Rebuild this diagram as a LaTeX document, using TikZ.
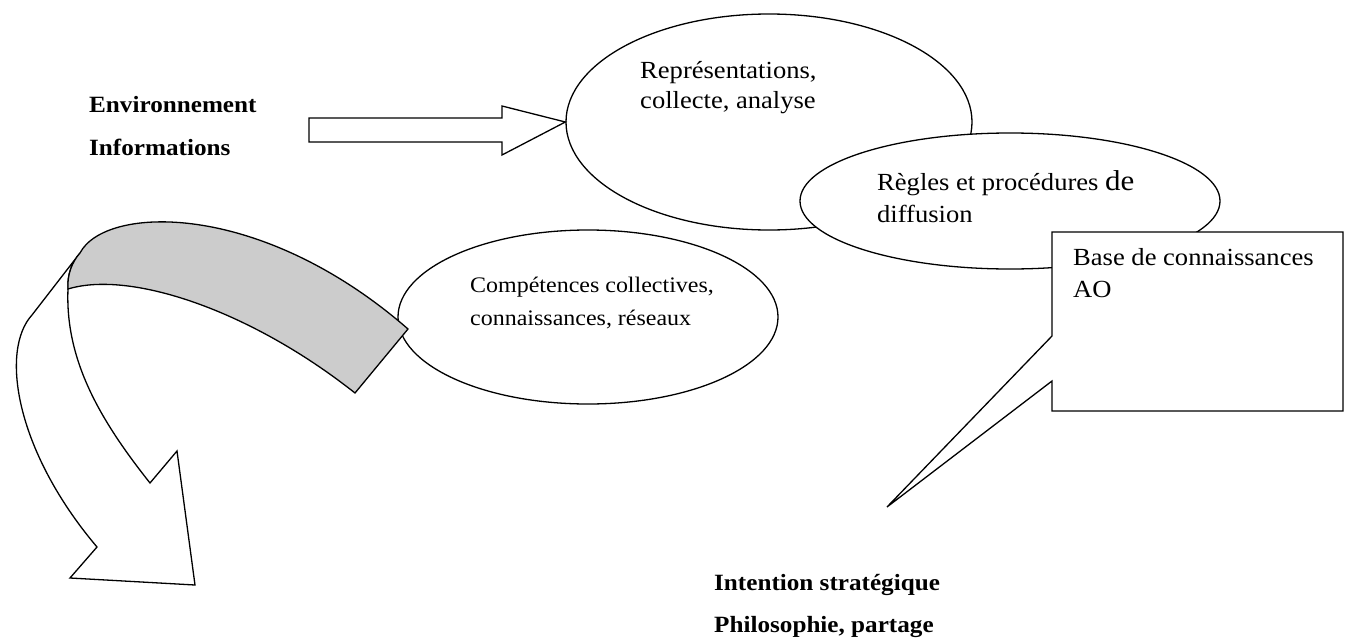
\documentclass[tikz,border=0pt]{standalone}
\usepackage{fontspec}
\setmainfont{Liberation Serif}[FakeStretch=1.08]
\usetikzlibrary{shapes.geometric}

\begin{document}
\begin{tikzpicture}[
  x=1pt, y=-1pt,
  oval/.style={draw, ellipse, fill=white, line width=1.3pt, inner sep=0pt},
  txt/.style={anchor=base west, inner sep=0pt, font=\fontsize{24.6}{30}\selectfont},
  smalltxt/.style={txt, font=\fontsize{22.2}{27}\selectfont},
  head/.style={anchor=base west, inner sep=0pt, font=\fontsize{23.3}{28}\selectfont\bfseries},
  outline/.style={draw, line width=1.3pt, line join=miter}
]
\useasboundingbox (0,0) rectangle (1345,640);

% environment
\node[head] (env) at (89,112) {Environnement};
\node[head] (info) at (89,155) {Informations};

% ovals
\node[oval, minimum width=406pt, minimum height=216pt] (repr) at (769,122) {};
\node[txt] (repr1) at (640,78) {Représentations,};
\node[txt] (repr2) at (640,108) {collecte, analyse};

\node[oval, minimum width=420pt, minimum height=136pt] (regl) at (1010,201) {};
\node[txt] (regl1) at (877,190) {Règles et procédures {\fontsize{28.7}{30}\selectfont de}};
\node[txt] (regl2) at (877,222) {diffusion};

% callout
\draw[outline, fill=white] (1052,232) -- (1343,232) -- (1343,411) -- (1052,411)
  -- (1052,381) -- (887,507) -- (1052,336) -- cycle;
\node[txt] (base1) at (1073,265) {Base de connaissances};
\node[txt] (base2) at (1073,297) {AO};

\node[oval, minimum width=380pt, minimum height=174pt] (comp) at (588,317) {};
\node[smalltxt] (comp1) at (470,292) {Compétences collectives,};
\node[smalltxt] (comp2) at (470,325) {connaissances, réseaux};

% input arrow
\draw[outline, fill=white] (309,118) -- (502,118) -- (502,106) -- (repr.west)
  -- (502,155) -- (502,142) -- (309,142) -- cycle;

% curved arrow
\coordinate (j) at (80,253);
\draw[outline, fill=white] (j) -- (32,315) .. controls (0,350) and (15,450) .. (97,547)
  -- (70,578) -- (195,585) -- (177,451) -- (150,483)
  .. controls (100,420) and (65,360) .. (68,289)
  .. controls (67,275) and (72,262) .. (j) -- cycle;
\draw[outline, fill=black!20] (j) .. controls (105,205) and (260,200) .. (408,329)
  -- (355,393) .. controls (250,310) and (130,270) .. (68,289)
  .. controls (67,275) and (72,262) .. (j) -- cycle;

% strategy
\node[head] (intent) at (714,590) {Intention stratégique};
\node[head] (philo) at (714,632) {Philosophie, partage};

\end{tikzpicture}
\end{document}
